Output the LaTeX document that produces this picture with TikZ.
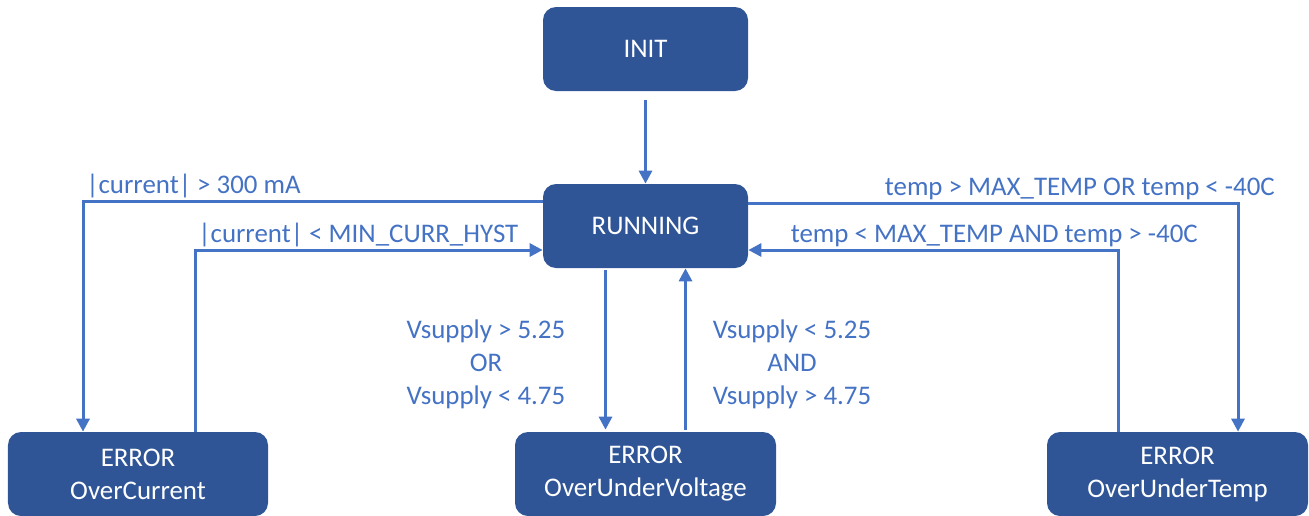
\documentclass[tikz,border=0pt]{standalone}
\usepackage{fontspec}
\setmainfont{Carlito}
\usepackage{tikz}
\usetikzlibrary{arrows.meta}
\definecolor{boxblue}{HTML}{2F5597}
\definecolor{lineblue}{HTML}{4472C4}

\begin{document}
\begin{tikzpicture}[>={Triangle[length=0.26cm,width=0.26cm]},
    state/.style={fill=boxblue, rounded corners=0.26cm, minimum height=1.68cm,
        text=white, align=center, inner sep=0pt,
        font=\fontsize{15.3}{18.8}\selectfont},
    flow/.style={->, draw=lineblue, line width=0.06cm},
    cond/.style={text=lineblue, inner sep=1pt, align=center,
        font=\fontsize{15.3}{18.8}\selectfont}]

    % Page frame
    \useasboundingbox (0,0) rectangle (26.18,-10.3);

    % States
    \node[state, minimum width=4.1cm] (init) at (12.91,-0.98) {INIT};
    \node[state, minimum width=4.1cm] (run) at (12.91,-4.52) {RUNNING};
    \node[state, minimum width=5.2cm] (oc) at (2.76,-9.48) {ERROR\\OverCurrent};
    \node[state, minimum width=5.22cm] (ouv) at (12.91,-9.48) {ERROR\\OverUnderVoltage};
    \node[state, minimum width=5.22cm] (out) at (23.55,-9.48) {ERROR\\OverUnderTemp};

    % Start up
    \draw[flow, shorten <=0.18cm] (init) -- (run);

    % Current limits
    \draw[flow] ([yshift=0.5cm]run.west) -| node[cond, pos=0.5, above right]
        {|current| > 300 mA} ([xshift=-1.1cm]oc.north);
    \draw[flow] ([xshift=1.14cm]oc.north) |- node[cond, pos=0.5, above right]
        {|current| < MIN\_CURR\_HYST} ([yshift=-0.48cm]run.west);

    % Temperature limits
    \draw[flow] ([yshift=0.46cm]run.east) -| node[cond, pos=0.5, above left, xshift=0.8cm]
        {temp > MAX\_TEMP OR temp < -40C} ([xshift=1.21cm]out.north);
    \draw[flow] ([xshift=-1.19cm]out.north) |- node[cond, pos=0.5, above left, xshift=1.66cm]
        {temp < MAX\_TEMP AND temp > -40C} ([yshift=-0.48cm]run.east);

    % Supply voltage limits
    \draw[flow, shorten <=0.04cm, shorten >=0.04cm] ([xshift=-0.8cm]run.south) --
        node[cond, left, xshift=-0.74cm, yshift=-0.28cm]
        {Vsupply > 5.25\\OR\\Vsupply < 4.75} ([xshift=-0.8cm]ouv.north);
    \draw[flow, shorten <=0.04cm] ([xshift=0.8cm]ouv.north) --
        node[cond, right, xshift=0.48cm, yshift=-0.28cm]
        {Vsupply < 5.25\\AND\\Vsupply > 4.75} ([xshift=0.8cm]run.south);
\end{tikzpicture}
\end{document}
